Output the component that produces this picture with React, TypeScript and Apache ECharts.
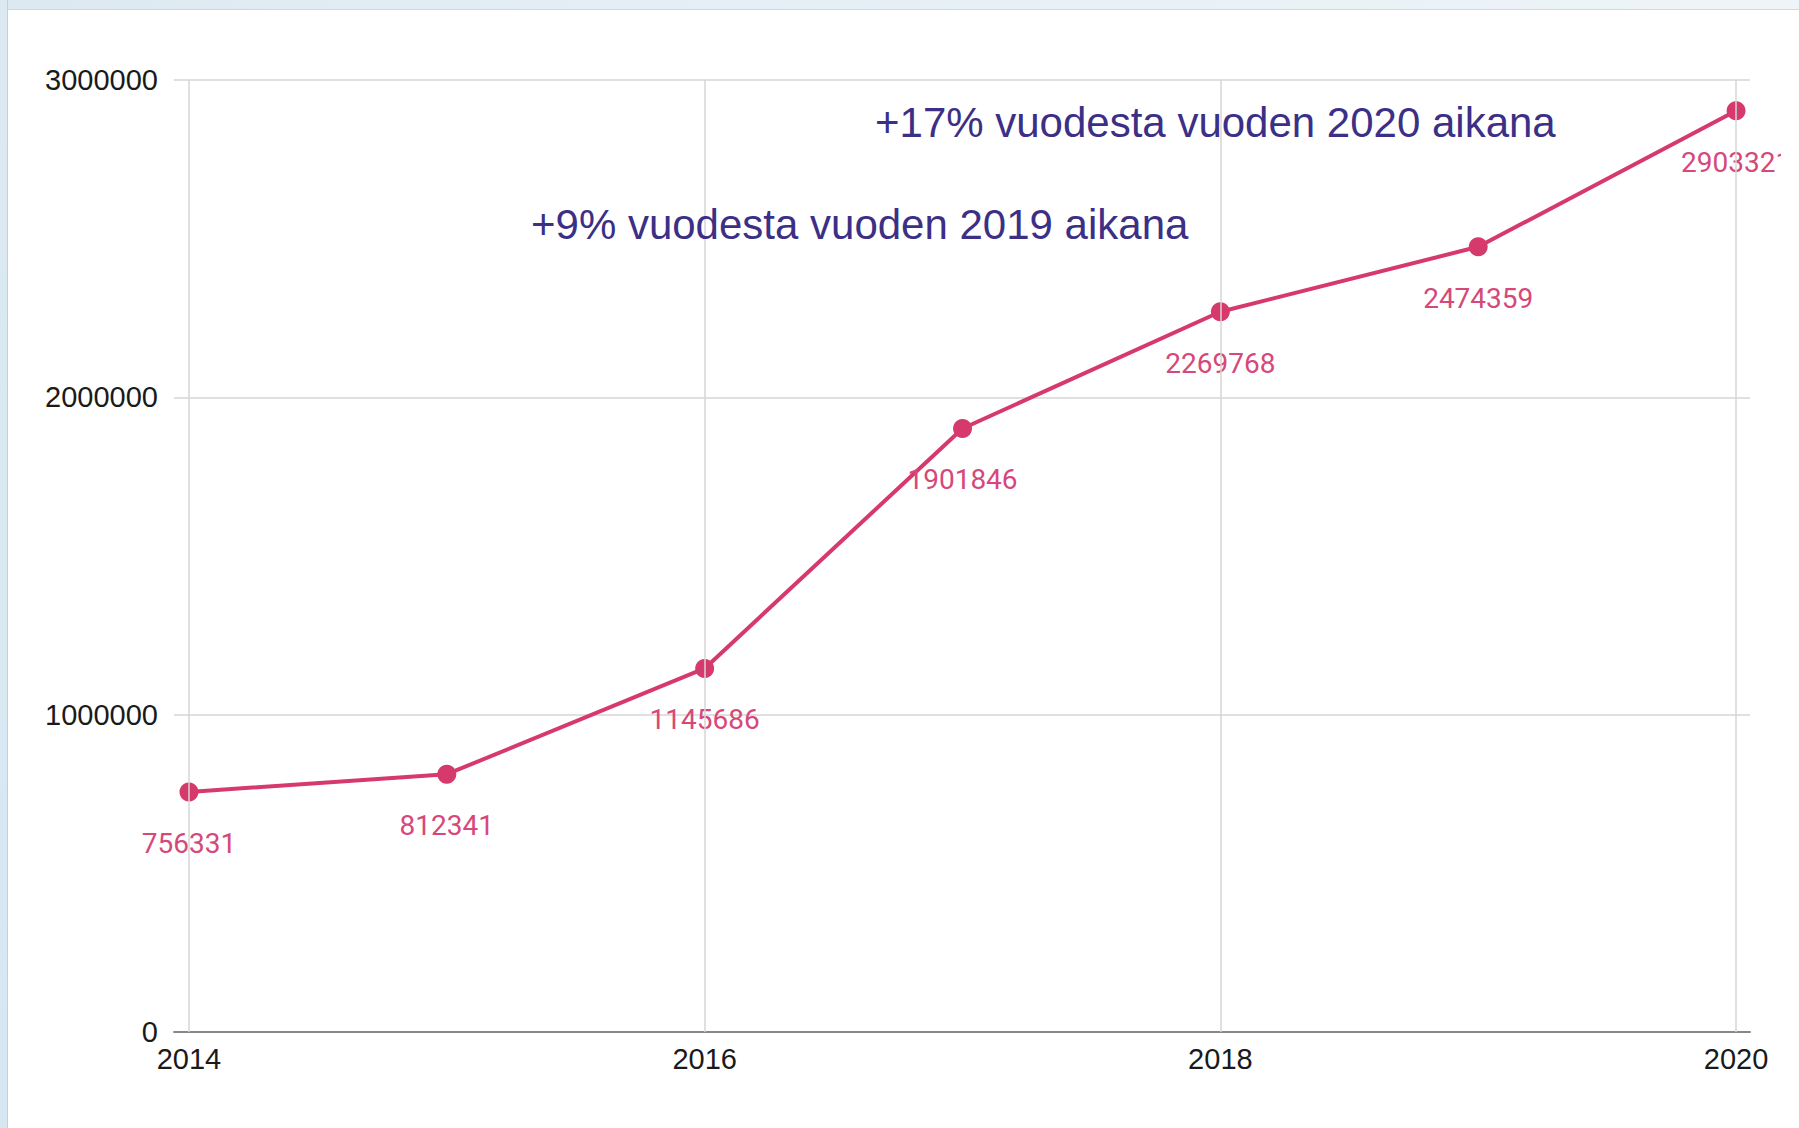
import React, { useEffect, useRef } from "react";
import * as echarts from "echarts";

const years = [2014, 2015, 2016, 2017, 2018, 2019, 2020];
const users = [756331, 812341, 1145686, 1901846, 2269768, 2474359, 2903321];
const xLabelYears = [2014, 2016, 2018, 2020];
const yMin = 0;
const yMax = 3000000;
const yStep = 1000000;
const notes = ["+17% vuodesta vuoden 2020 aikana", "+9% vuodesta vuoden 2019 aikana"];

const LINE = "#d6396b";
const LABEL = "#d6487a";
const NOTE = "#3c2f86";
const AXISFONT = "'Liberation Sans', Arial, sans-serif";

export default function App() {
  const ref = useRef<HTMLDivElement>(null);

  useEffect(() => {
    if (!ref.current) return;
    const chart = echarts.init(ref.current, null, { renderer: "svg" });
    const seriesData = years.map((y, i) => [y, users[i]]);
    chart.setOption({
      animation: false,
      backgroundColor: "#ffffff",
      grid: { left: 166, right: 31, top: 70, bottom: 96, containLabel: false },
      xAxis: {
        type: "value",
        min: 2013.942,
        max: 2020.054,
        axisLine: { show: true, onZero: false, lineStyle: { color: "#888", width: 2 } },
        axisTick: { show: false },
        splitLine: { show: false },
        axisLabel: {
          customValues: xLabelYears,
          color: "#1a1a1a",
          fontSize: 29,
          fontFamily: AXISFONT,
          margin: 12,
          formatter: (v: number) => String(Math.round(v)),
        },
      },
      yAxis: {
        type: "value",
        min: yMin,
        max: yMax,
        interval: yStep,
        axisLine: { show: false },
        axisTick: { show: false },
        splitLine: { show: true, lineStyle: { color: "#d6d6d6", width: 1.5 } },
        axisLabel: {
          color: "#1a1a1a",
          fontSize: 29,
          fontFamily: AXISFONT,
          margin: 16,
          formatter: (v: number) => String(v),
        },
      },
      series: [
        {
          type: "line",
          data: [],
          z: 1,
          silent: true,
          markLine: {
            silent: true,
            symbol: "none",
            label: { show: false },
            lineStyle: { color: "#d6d6d6", width: 1.5, type: "solid" },
            data: xLabelYears.map((y) => ({ xAxis: y })),
          },
        },
        {
          type: "line",
          data: seriesData,
          z: 3,
          symbol: "circle",
          symbolSize: 19,
          lineStyle: { color: LINE, width: 4 },
          itemStyle: { color: LINE },
          label: {
            show: true,
            position: "bottom",
            distance: 28,
            color: LABEL,
            fontSize: 28,
            fontFamily: "Roboto, sans-serif",
            formatter: (p: any) => String(p.value[1]),
          },
        },
      ],
      graphic: [
        {
          type: "text",
          left: 867,
          top: 91,
          style: {
            text: notes[0],
            fill: NOTE,
            fontSize: 42,
            fontFamily: AXISFONT,
          },
          z: 10,
        },
        {
          type: "text",
          left: 523,
          top: 193,
          style: {
            text: notes[1],
            fill: NOTE,
            fontSize: 42,
            fontFamily: AXISFONT,
          },
          z: 10,
        },
      ],
    });
    return () => chart.dispose();
  }, []);

  return (
    <div
      style={{
        position: "fixed",
        left: 0,
        top: 0,
        width: 1799,
        height: 1128,
        background: "#ffffff",
        overflow: "hidden",
      }}
    >
      <div
        style={{
          position: "absolute",
          left: 0,
          top: 0,
          width: 1799,
          height: 9,
          background: "linear-gradient(90deg, #dde9f1 0%, #e9f1f6 60%, #eef4f8 100%)",
          borderBottom: "1px solid #d4d8dc",
        }}
      />
      <div
        style={{
          position: "absolute",
          left: 0,
          top: 0,
          width: 7,
          height: 1128,
          background: "linear-gradient(180deg, #dce9f2 0%, #d7e7f1 100%)",
          borderRight: "1px solid #c9ced3",
        }}
      />
      <div
        ref={ref}
        style={{ position: "absolute", left: 8, top: 10, width: 1773, height: 1118 }}
      />
    </div>
  );
}
